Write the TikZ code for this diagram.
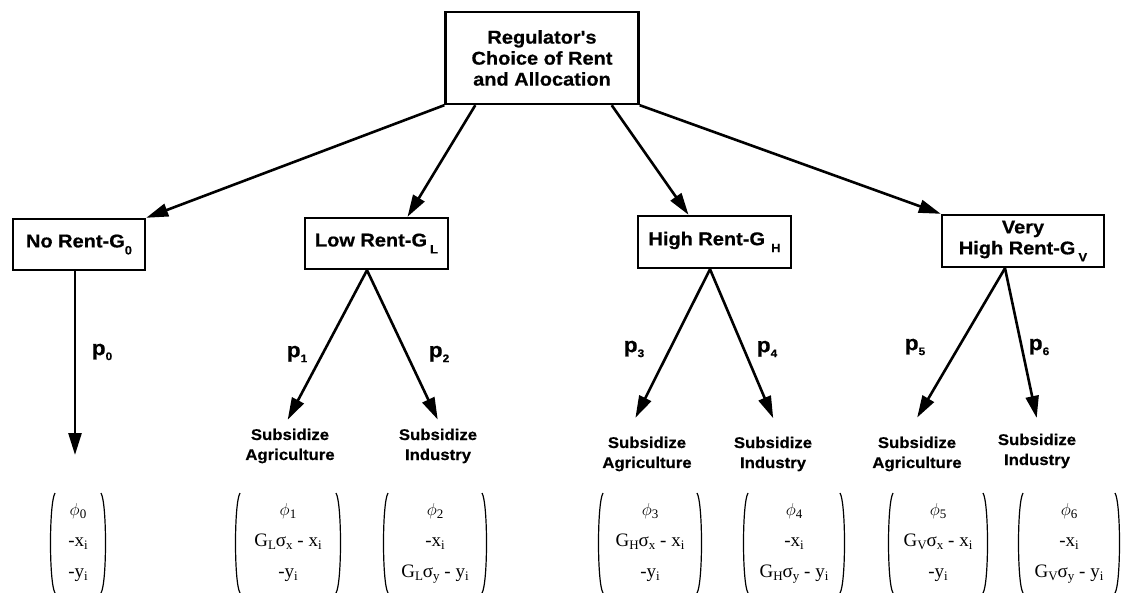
\documentclass[tikz,border=0pt]{standalone}
\usepackage{fontspec}
\setmainfont{Liberation Serif}
\newfontfamily\lsans{Liberation Sans}[FakeStretch=1.08,FakeBold=0.6]
\usetikzlibrary{arrows.meta}
\newcommand\lo[1]{\raisebox{-3pt}{\fontsize{13}{13}\selectfont #1}}
\newcommand\bsub[1]{\raisebox{-7pt}{\fontsize{12}{12}\selectfont #1}}
\newcommand\psub[1]{\raisebox{-5pt}{\fontsize{11}{11}\selectfont #1}}
\newcommand\vphi{$\phi$}
\newcommand\vparens[2]{%
  \draw[paren] ([shift={(-#2+5,-50)}]#1.center) .. controls ([shift={(-#2-1,-40)}]#1.center) and ([shift={(-#2-1,40)}]#1.center) .. ([shift={(-#2+5,50)}]#1.center);
  \draw[paren] ([shift={(#2-5,-50)}]#1.center) .. controls ([shift={(#2+1,-40)}]#1.center) and ([shift={(#2+1,40)}]#1.center) .. ([shift={(#2-5,50)}]#1.center);}
\begin{document}
\begin{tikzpicture}[x=1pt,y=-1pt,
  box/.style={draw, line width=2.4pt, font=\lsans\bfseries\fontsize{18.5}{21}\selectfont, align=center, inner sep=0pt},
  arr/.style={line width=2.6pt, -{Triangle[length=22pt,width=13pt]}},
  subtxt/.style={font=\lsans\bfseries\fontsize{15.5}{20}\selectfont, align=center, inner sep=0pt},
  plab/.style={font=\lsans\bfseries\fontsize{21}{21}\selectfont, inner sep=0pt},
  vec/.style={font=\fontsize{19}{31}\selectfont, align=center, inner sep=0pt},
  paren/.style={line width=1.2pt}]
\useasboundingbox (0,0) rectangle (1123,593);

% top box
\node[box, minimum width=193, minimum height=92] (top) at (542,58) {Regulator's\\Choice of Rent\\and Allocation};

% rent boxes
\node[box, minimum width=132, minimum height=51] (norent) at (79,244.5) {No Rent-G\bsub{0}};
\node[box, minimum width=143, minimum height=51] (low) at (376.5,243.5) {Low Rent-G\,\bsub{L}};
\node[box, minimum width=153, minimum height=52] (high) at (714.5,242) {High Rent-G\,\,\bsub{H}};
\node[box, minimum width=162, minimum height=52] (vhigh) at (1023,241) {Very\\High Rent-G\,\bsub{V}};

% arrows from top
\draw[arr] (top.south west) -- (norent.north east);
\draw[arr] ([xshift=31]top.south west) -- ([xshift=31]low.north);
\draw[arr] ([xshift=-28]top.south east) -- ([xshift=-26]high.north);
\draw[arr] (top.south east) -- (vhigh.north west);

% subsidize labels
\node[subtxt] (la) at (290,446) {Subsidize\\Agriculture};
\node[subtxt] (li) at (438,446) {Subsidize\\Industry};
\node[subtxt] (ha) at (647,454) {Subsidize\\Agriculture};
\node[subtxt] (hi) at (773,454) {Subsidize\\Industry};
\node[subtxt] (va) at (917,454) {Subsidize\\Agriculture};
\node[subtxt] (vi) at (1037,451) {Subsidize\\Industry};

% no rent arrow
\coordinate (tip0) at (75,455);
\draw[arr] ([xshift=-4]norent.south) -- (tip0);

% branch arrows
\draw[arr, shorten >=10pt] ([xshift=-9.5]low.south) -- ([xshift=-7]la.north);
\draw[arr, shorten >=10pt] ([xshift=-9.5]low.south) -- ([xshift=4]li.north);
\draw[arr, shorten >=21pt] ([xshift=-4.5]high.south) -- ([xshift=-21]ha.north);
\draw[arr, shorten >=20pt] ([xshift=-4.5]high.south) -- ([xshift=8]hi.north);
\draw[arr, shorten >=22pt] ([xshift=-18]vhigh.south) -- ([xshift=-11]va.north);
\draw[arr, shorten >=16pt] ([xshift=-18]vhigh.south) -- ([xshift=3]vi.north);

% probability labels
\node[plab] (p0) at (102,352) {p\psub{0}};
\node[plab] (p1) at (297,354) {p\psub{1}};
\node[plab] (p2) at (439,354) {p\psub{2}};
\node[plab] (p3) at (634,349) {p\psub{3}};
\node[plab] (p4) at (767,349) {p\psub{4}};
\node[plab] (p5) at (915,347) {p\psub{5}};
\node[plab] (p6) at (1039,347) {p\psub{6}};

% payoff vectors
\node[vec] (v0) at (78,543) {\vphi\lo{0}\\-x\lo{i}\\-y\lo{i}};
\node[vec] (v1) at (288,543) {\vphi\lo{1}\\G\lo{L}σ\lo{x} - x\lo{i}\\-y\lo{i}};
\node[vec] (v2) at (435,543) {\vphi\lo{2}\\-x\lo{i}\\G\lo{L}σ\lo{y} - y\lo{i}};
\node[vec] (v3) at (650,543) {\vphi\lo{3}\\G\lo{H}σ\lo{x} - x\lo{i}\\-y\lo{i}};
\node[vec] (v4) at (794,543) {\vphi\lo{4}\\-x\lo{i}\\G\lo{H}σ\lo{y} - y\lo{i}};
\node[vec] (v5) at (938,543) {\vphi\lo{5}\\G\lo{V}σ\lo{x} - x\lo{i}\\-y\lo{i}};
\node[vec] (v6) at (1069,543) {\vphi\lo{6}\\-x\lo{i}\\G\lo{V}σ\lo{y} - y\lo{i}};
\vparens{v0}{28}
\vparens{v1}{53}
\vparens{v2}{52}
\vparens{v3}{52}
\vparens{v4}{51}
\vparens{v5}{50}
\vparens{v6}{51}
\end{tikzpicture}
\end{document}
